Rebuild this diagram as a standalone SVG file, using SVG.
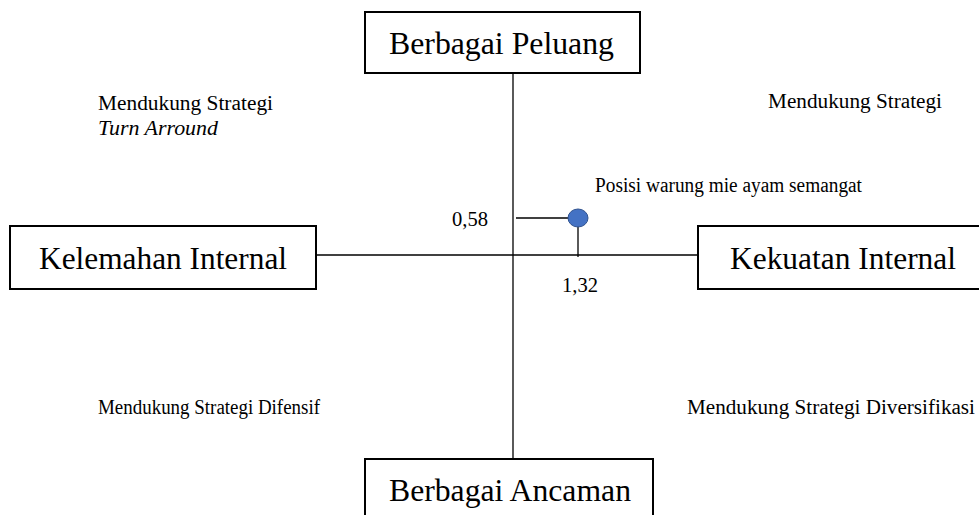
<svg xmlns="http://www.w3.org/2000/svg" width="979" height="515" viewBox="0 0 979 515">
<style>
.box{fill:#fff;stroke:#000;stroke-width:2}
.big{font-family:"Liberation Serif","Times New Roman",serif;font-size:32px;fill:#000}
.sm{font-family:"Liberation Serif","Times New Roman",serif;font-size:20px;fill:#000}
.num{font-family:"Liberation Serif","Times New Roman",serif;font-size:21px;fill:#000}
.ln{stroke:#000;stroke-width:1.3;fill:none}
</style>
<rect width="979" height="515" fill="#fff"/>
<g id="connectors">
<line class="ln" x1="513" y1="73" x2="513" y2="459"/>
<line class="ln" x1="316" y1="255" x2="698" y2="255"/>
<line class="ln" x1="516" y1="218" x2="569" y2="218"/>
<line class="ln" x1="578" y1="226" x2="578" y2="257"/>
</g>
<g id="top"><rect class="box" x="365" y="12" width="275" height="61"/><text class="big" x="389" y="54" textLength="225" lengthAdjust="spacingAndGlyphs">Berbagai Peluang</text></g>
<g id="left"><rect class="box" x="10" y="226" width="306" height="63"/><text class="big" x="39" y="269" textLength="248" lengthAdjust="spacingAndGlyphs">Kelemahan Internal</text></g>
<g id="right"><rect class="box" x="698" y="226" width="290" height="63"/><text class="big" x="730" y="269" textLength="226" lengthAdjust="spacingAndGlyphs">Kekuatan Internal</text></g>
<g id="bottom"><rect class="box" x="365" y="459" width="288" height="70"/><text class="big" x="389" y="501" textLength="242" lengthAdjust="spacingAndGlyphs">Berbagai Ancaman</text></g>
<g id="point"><ellipse cx="578" cy="218" rx="10" ry="9" fill="#4472c4" stroke="#2f528f" stroke-width="1"/></g>
<g id="labels">
<text class="sm" x="98" y="110" textLength="175" lengthAdjust="spacingAndGlyphs">Mendukung Strategi</text>
<text class="sm" x="98" y="135" font-style="italic" textLength="120" lengthAdjust="spacingAndGlyphs">Turn Arround</text>
<text class="sm" x="768" y="108" textLength="174" lengthAdjust="spacingAndGlyphs">Mendukung Strategi</text>
<text class="sm" x="595" y="192" textLength="267" lengthAdjust="spacingAndGlyphs">Posisi warung mie ayam semangat</text>
<text class="num" x="452" y="226" textLength="36" lengthAdjust="spacingAndGlyphs">0,58</text>
<text class="num" x="562" y="292" textLength="36" lengthAdjust="spacingAndGlyphs">1,32</text>
<text class="sm" x="98" y="414" textLength="222" lengthAdjust="spacingAndGlyphs">Mendukung Strategi Difensif</text>
<text class="sm" x="687" y="414" textLength="288" lengthAdjust="spacingAndGlyphs">Mendukung Strategi Diversifikasi</text>
</g>
</svg>
